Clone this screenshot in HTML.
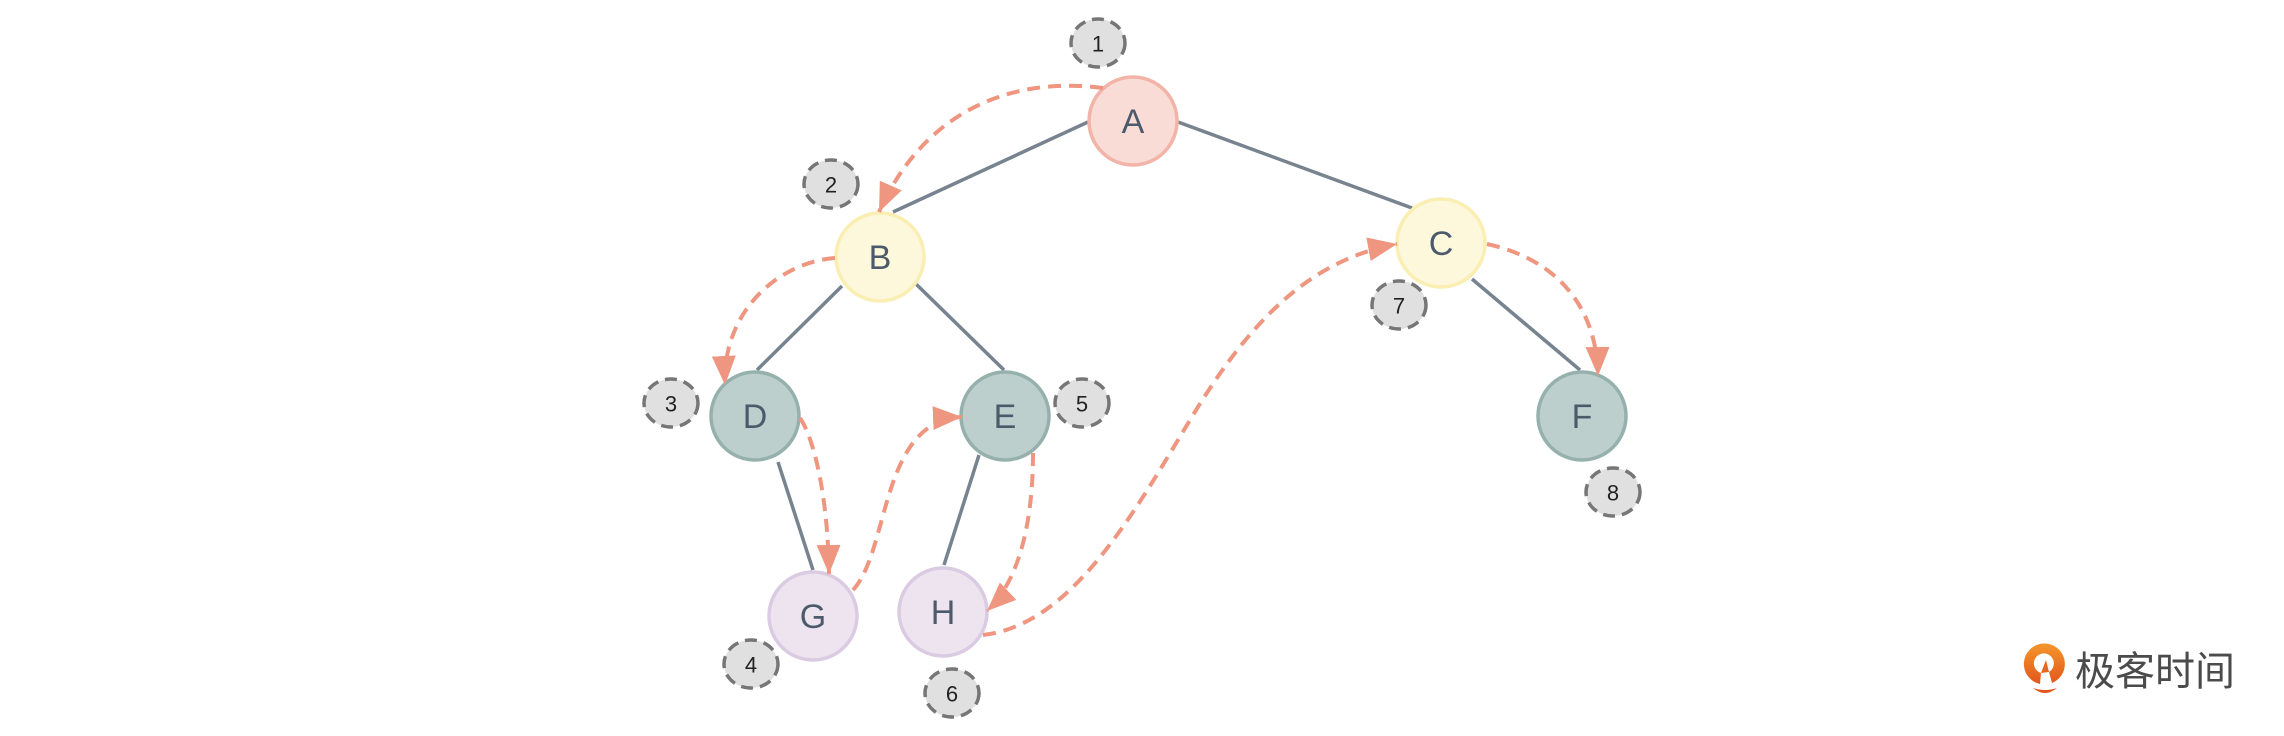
<!DOCTYPE html>
<html>
<head>
<meta charset="utf-8">
<style>
  html, body { margin:0; padding:0; background:#ffffff; }
  body { width:2284px; height:736px; overflow:hidden; }
  svg { display:block; }
  .node-t { font-family:"Liberation Sans", Arial, sans-serif; font-size:34px; fill:#4c5a6b; text-anchor:middle; dominant-baseline:central; }
  .badge-t { font-family:"Liberation Sans", Arial, sans-serif; font-size:22px; fill:#222; text-anchor:middle; dominant-baseline:central; }
  .edge { stroke:#77838f; stroke-width:3.5; fill:none; }
  .flow { stroke:#ee9680; stroke-width:4; fill:none; stroke-dasharray:13 8; }
  .badge { fill:#e0e0e0; stroke:#767676; stroke-width:3.5; stroke-dasharray:12 7; }
</style>
</head>
<body>
<svg width="2284" height="736" viewBox="0 0 2284 736" xmlns="http://www.w3.org/2000/svg">
  <defs>
    <marker id="ah" markerUnits="userSpaceOnUse" markerWidth="32" markerHeight="26" refX="29" refY="12" orient="auto">
      <path d="M0,0 L29,12 L0,24 Z" fill="#ee9680"/>
    </marker>
  </defs>

  <!-- tree edges -->
  <line class="edge" x1="1088" y1="122" x2="893" y2="212"/>
  <line class="edge" x1="1178" y1="122" x2="1412" y2="208"/>
  <line class="edge" x1="842" y1="286" x2="757" y2="370"/>
  <line class="edge" x1="916" y1="284" x2="1004" y2="370"/>
  <line class="edge" x1="778" y1="462" x2="813" y2="570"/>
  <line class="edge" x1="979" y1="455" x2="944" y2="565"/>
  <line class="edge" x1="1472" y1="279" x2="1580" y2="370"/>

  <!-- nodes -->
  <circle cx="1133" cy="121" r="44" fill="#fadcd6" stroke="#f2b4a8" stroke-width="3.5"/>
  <text class="node-t" x="1133" y="122">A</text>

  <circle cx="880" cy="257" r="44" fill="#fdf8dc" stroke="#faeeb2" stroke-width="3.5"/>
  <text class="node-t" x="880" y="258">B</text>

  <circle cx="1441" cy="243" r="44" fill="#fdf8dc" stroke="#faeeb2" stroke-width="3.5"/>
  <text class="node-t" x="1441" y="244">C</text>

  <circle cx="755" cy="416" r="44" fill="#bccfcd" stroke="#96b1ad" stroke-width="3.5"/>
  <text class="node-t" x="755" y="417">D</text>

  <circle cx="1005" cy="416" r="44" fill="#bccfcd" stroke="#96b1ad" stroke-width="3.5"/>
  <text class="node-t" x="1005" y="417">E</text>

  <circle cx="1582" cy="416" r="44" fill="#bccfcd" stroke="#96b1ad" stroke-width="3.5"/>
  <text class="node-t" x="1582" y="417">F</text>

  <circle cx="813" cy="616" r="44" fill="#ede4f0" stroke="#dacbe2" stroke-width="3.5"/>
  <text class="node-t" x="813" y="617">G</text>

  <circle cx="943" cy="612" r="44" fill="#ede4f0" stroke="#dacbe2" stroke-width="3.5"/>
  <text class="node-t" x="943" y="613">H</text>

  <!-- traversal arrows -->
  <path class="flow" d="M1103 88 C1000 75, 920 120, 879 212" marker-end="url(#ah)"/>
  <path class="flow" d="M835 258 C780 262, 722 310, 725 385" marker-end="url(#ah)"/>
  <path class="flow" d="M800 418 C815 440, 828 500, 829 574" marker-end="url(#ah)"/>
  <path class="flow" d="M853 590 C890 550, 880 420, 962 417" marker-end="url(#ah)"/>
  <path class="flow" d="M1033 453 C1033 520, 1020 580, 987 611" marker-end="url(#ah)"/>
  <path class="flow" d="M983 635 C1070 625, 1130 520, 1190 420 C1250 320, 1310 260, 1397 244" marker-end="url(#ah)"/>
  <path class="flow" d="M1487 244 C1560 260, 1597 310, 1598 376" marker-end="url(#ah)"/>

  <!-- badges -->
  <ellipse class="badge" cx="1098" cy="43" rx="27" ry="24"/>
  <text class="badge-t" x="1098" y="44">1</text>
  <ellipse class="badge" cx="831" cy="184" rx="27" ry="24"/>
  <text class="badge-t" x="831" y="185">2</text>
  <ellipse class="badge" cx="671" cy="403" rx="27" ry="24"/>
  <text class="badge-t" x="671" y="404">3</text>
  <ellipse class="badge" cx="751" cy="664" rx="27" ry="24"/>
  <text class="badge-t" x="751" y="665">4</text>
  <ellipse class="badge" cx="1082" cy="403" rx="27" ry="24"/>
  <text class="badge-t" x="1082" y="404">5</text>
  <ellipse class="badge" cx="952" cy="693" rx="27" ry="24"/>
  <text class="badge-t" x="952" y="694">6</text>
  <ellipse class="badge" cx="1399" cy="305" rx="27" ry="24"/>
  <text class="badge-t" x="1399" y="306">7</text>
  <ellipse class="badge" cx="1613" cy="492" rx="27" ry="24"/>
  <text class="badge-t" x="1613" y="493">8</text>

  <!-- logo -->
  <defs>
    <linearGradient id="lg" x1="0" y1="0" x2="0" y2="1">
      <stop offset="0" stop-color="#f4972c"/>
      <stop offset="1" stop-color="#e2561c"/>
    </linearGradient>
  </defs>
  <path d="M2040 684 A20.5 20.5 0 1 1 2052 683 L2049 672 A10 10 0 1 0 2041 673 Z" fill="url(#lg)"/>
  <path d="M2041 673 L2046 660 L2049 672 Z" fill="#e8661f"/>
  <path d="M2033 688 Q2045 698 2057 688 Q2045 692 2033 688 Z" fill="#e2561c"/>
  <text x="2075" y="685" font-family="'Liberation Sans','Noto Sans CJK SC',sans-serif" font-size="40" fill="#4b4b4b">极客时间</text>
</svg>
</body>
</html>
